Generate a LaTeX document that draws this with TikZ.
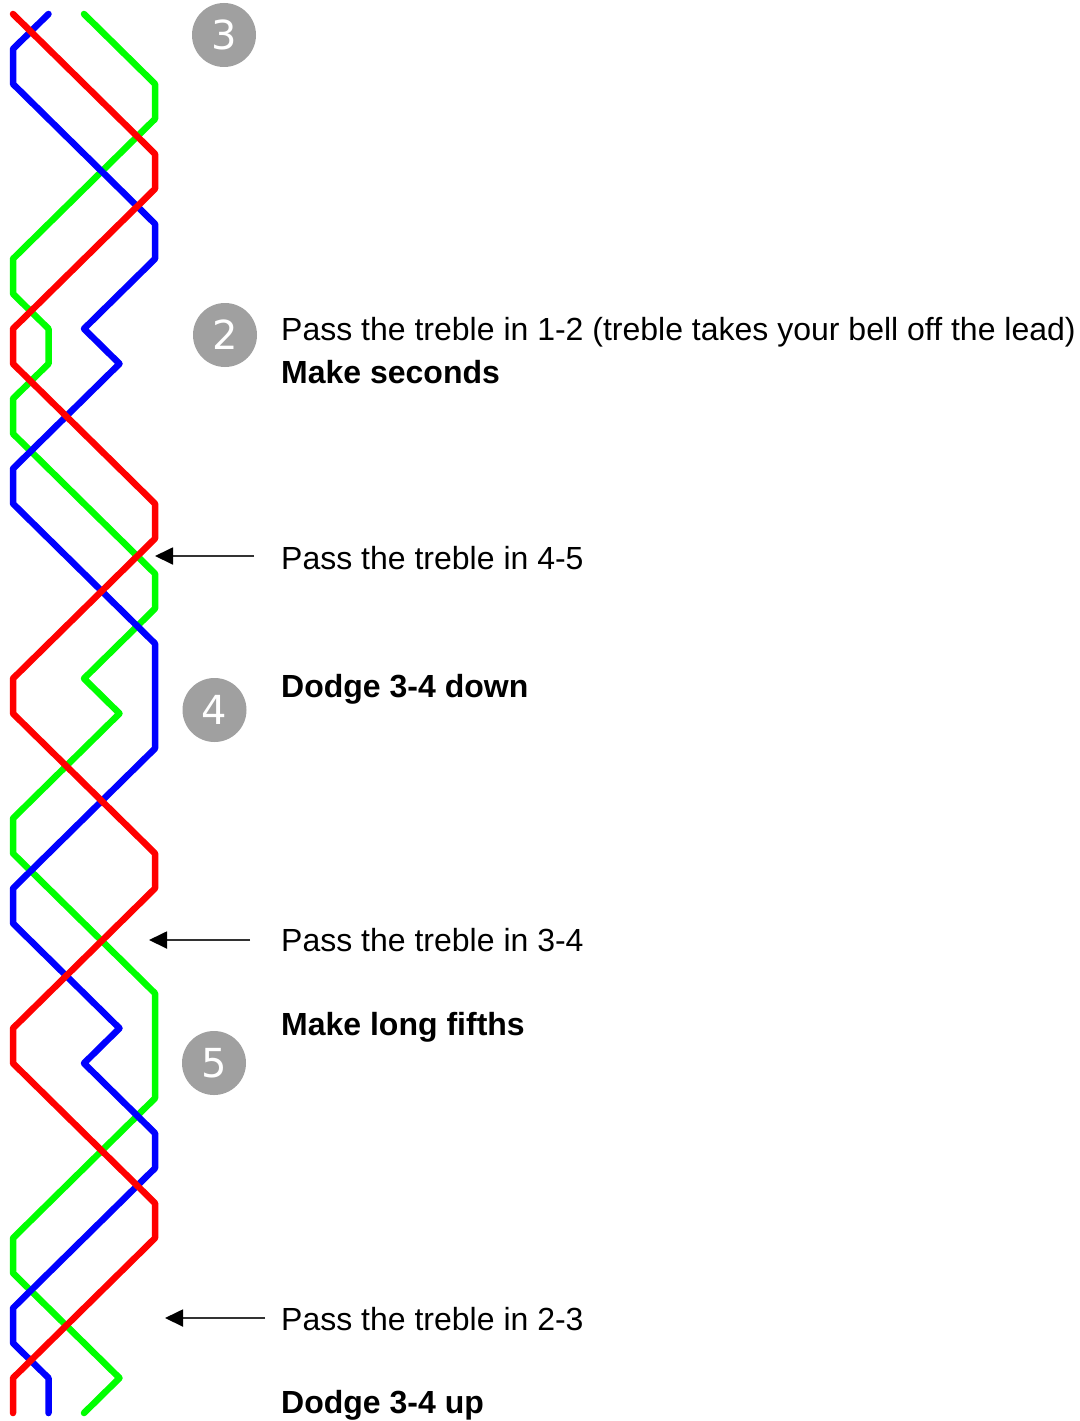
\documentclass[tikz,border=0pt]{standalone}
\usepackage{fontspec}
\setmainfont{Liberation Sans}
\newfontfamily\numfont{DejaVu Sans}
\usetikzlibrary{arrows.meta}
\definecolor{bellred}{RGB}{255,0,0}
\definecolor{bellblue}{RGB}{0,0,255}
\definecolor{bellgreen}{RGB}{0,255,0}
\definecolor{leadgray}{RGB}{160,160,160}
\definecolor{arrowgray}{RGB}{50,50,50}
\tikzset{
  bellpath/.style={line width=6.5pt, line cap=round, line join=round},
  leadnum/.style={circle, fill=leadgray, minimum size=64pt, inner sep=0pt, text=white, font=\numfont\fontsize{40}{40}\selectfont},
  plaintext/.style={anchor=base west, inner sep=0pt, font=\fontsize{32}{38}\selectfont},
  boldtext/.style={anchor=base west, inner sep=0pt, font=\fontsize{32}{38}\selectfont\bfseries},
  pointer/.style={line width=1.8pt, draw=arrowgray, -{Triangle[length=18pt,width=17pt,fill=black,color=black]}}
}
\begin{document}
\begin{tikzpicture}[x=1pt,y=-1pt]
\useasboundingbox (0,0) rectangle (1079,1421);
\fill[white] (0,0) rectangle (1079,1421);
\begin{scope}[shift={(13,14)}, x=35.5pt, y=-34.975pt]
\draw[bellpath, bellgreen] (2,0) -- (4,2) -- (4,3) -- (0,7) -- (0,8) -- (1,9) -- (1,10) -- (0,11) -- (0,12) -- (4,16) -- (4,17) -- (2,19) -- (3,20) -- (0,23) -- (0,24) -- (4,28) -- (4,31) -- (0,35) -- (0,36) -- (3,39) -- (2,40);
\draw[bellpath, bellblue] (1,0) -- (0,1) -- (0,2) -- (4,6) -- (4,7) -- (2,9) -- (3,10) -- (0,13) -- (0,14) -- (4,18) -- (4,21) -- (0,25) -- (0,26) -- (3,29) -- (2,30) -- (4,32) -- (4,33) -- (0,37) -- (0,38) -- (1,39) -- (1,40);
\draw[bellpath, bellred] (0,0) -- (4,4) -- (4,5) -- (0,9) -- (0,10) -- (4,14) -- (4,15) -- (0,19) -- (0,20) -- (4,24) -- (4,25) -- (0,29) -- (0,30) -- (4,34) -- (4,35) -- (0,39) -- (0,40);
\end{scope}
\node[leadnum] (n3) at (224,35) {3};
\node[leadnum] (n2) at (225,335) {2};
\node[leadnum] (n4) at (214.5,710) {4};
\node[leadnum] (n5) at (214,1063) {5};
\node[plaintext] (t12) at (281,340) {Pass the treble in 1-2 (treble takes your bell off the lead)};
\node[boldtext] (tms) at (281,383) {Make seconds};
\node[plaintext] (t45) at (281,569) {Pass the treble in 4-5};
\node[boldtext] (tdd) at (281,697) {Dodge 3-4 down};
\node[plaintext] (t34) at (281,951) {Pass the treble in 3-4};
\node[boldtext] (tlf) at (281,1035) {Make long fifths};
\node[plaintext] (t23) at (281,1330) {Pass the treble in 2-3};
\node[boldtext] (tdu) at (281,1413) {Dodge 3-4 up};
\coordinate (a1s) at (254,556);
\coordinate (a1e) at (155,556);
\coordinate (a2s) at (250,940);
\coordinate (a2e) at (149,940);
\coordinate (a3s) at (265,1318);
\coordinate (a3e) at (165,1318);
\draw[pointer] (a1s) -- (a1e);
\draw[pointer] (a2s) -- (a2e);
\draw[pointer] (a3s) -- (a3e);
\end{tikzpicture}
\end{document}
